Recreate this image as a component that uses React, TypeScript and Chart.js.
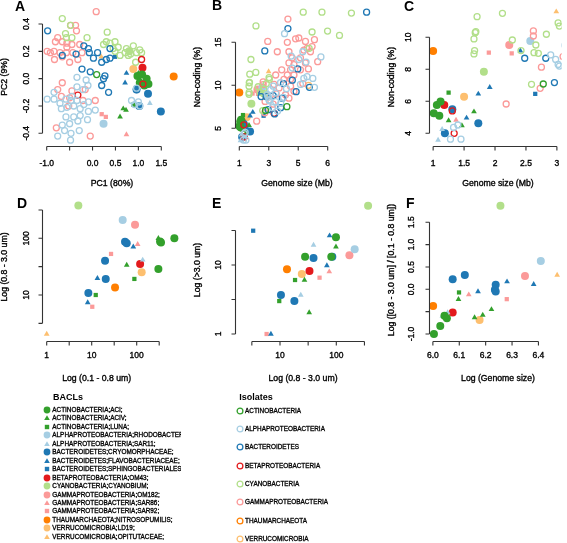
import React, { useEffect, useRef } from 'react';
import { Chart, registerables } from 'chart.js';

Chart.register(...registerables);

const W = 567;
const H = 543;
const FONT = '"Liberation Sans", Arial, Helvetica, sans-serif';

// ---------------- categories ----------------
const isolateNames = [
  'ACTINOBACTERIA', 'ALPHAPROTEOBACTERIA', 'BACTEROIDETES', 'BETAPROTEOBACTERIA',
  'CYANOBACTERIA', 'GAMMAPROTEOBACTERIA', 'THAUMARCHAEOTA', 'VERRUCOMICROBIA',
];
const baclNames = [
  'ACTINOBACTERIA;ACI;', 'ACTINOBACTERIA;ACIV;', 'ACTINOBACTERIA;LUNA;',
  'ALPHAPROTEOBACTERIA;RHODOBACTERACEAE;', 'ALPHAPROTEOBACTERIA;SAR11;',
  'BACTEROIDETES;CRYOMORPHACEAE;', 'BACTEROIDETES;FLAVOBACTERIACEAE;', 'BACTEROIDETES;SPHINGOBACTERIALES;',
  'BETAPROTEOBACTERIA;OM43;', 'CYANOBACTERIA;CYANOBIUM;',
  'GAMMAPROTEOBACTERIA;OM182;', 'GAMMAPROTEOBACTERIA;SAR86;', 'GAMMAPROTEOBACTERIA;SAR92;',
  'THAUMARCHAEOTA;NITROSOPUMILIS;', 'VERRUCOMICROBIA;LD19;', 'VERRUCOMICROBIA;OPITUTACEAE;',
];

// ---------------- styles ----------------
const phylumColors = ['#33A02C', '#A6CEE3', '#1F78B4', '#E31A1C', '#B2DF8A', '#FB9A99', '#FF7F00', '#FDBF6F'];
const baclPhylum = [0, 0, 0, 1, 1, 2, 2, 2, 3, 4, 5, 5, 5, 6, 7, 7];
const baclShapes = ['circle', 'triangle', 'rect', 'circle', 'triangle', 'circle', 'triangle', 'rect',
  'circle', 'circle', 'circle', 'triangle', 'rect', 'circle', 'circle', 'triangle'];

// ---------------- A: PCA (PC1, PC2) isolates ----------------
const pcaIsoActino = [[0.09, 0.03]];
const pcaIsoAlpha = [
  [-0.14, -0.01], [-0.34, -0.06], [-0.21, -0.08], [-0.10, -0.05], [-0.34, 0.01],
  [-0.99, -0.15], [-0.84, -0.15], [-0.71, -0.18], [-0.58, -0.15], [-0.47, -0.16], [-0.34, -0.16], [-0.19, -0.19], [-0.09, -0.17],
  [-0.68, -0.22], [-0.56, -0.21], [-0.41, -0.20], [-0.27, -0.22],
  [-0.58, -0.28], [-0.41, -0.28], [-0.27, -0.27], [-0.09, -0.24],
  [-0.66, -0.34], [-0.50, -0.33], [-0.32, -0.31], [-0.11, -0.30],
  [-0.61, -0.38], [-0.29, -0.38], [-0.76, -0.42], [-0.47, -0.40], [-0.48, -0.45],
  [0.06, -0.23], [-0.84, -0.10], [-0.45, -0.13],
  [0.92, -0.19], [1.03, -0.20], [0.85, -0.16], [0.96, -0.07], [1.0, -0.17],
];
const pcaIsoBact = [
  [-0.98, 0.35], [-0.66, 0.17], [-0.36, 0.18], [-0.19, 0.24], [-0.09, 0.22], [-0.07, 0.19], [0.11, 0.19],
  [0.02, 0.15], [0.30, 0.14], [0.38, 0.15], [0.38, 0.22], [-0.23, 0.07], [-0.05, 0.05], [0.27, 0.02],
  [0.20, -0.05], [0.35, -0.10], [0.96, -0.08], [0.24, 0.0], [0.20, 0.12],
];
const pcaIsoBeta = [[-0.32, -0.12], [1.07, 0.14], [1.10, -0.04]];
const pcaIsoCyano = [
  [-0.66, 0.44], [-0.48, 0.39], [-0.57, 0.30], [-0.45, 0.30], [-0.59, 0.33], [-0.12, 0.30], [0.32, 0.34],
  [0.30, 0.27], [0.38, 0.26], [0.49, 0.27], [0.45, 0.22], [0.49, 0.20], [0.56, 0.23], [0.74, 0.22],
  [0.89, 0.24], [0.71, 0.19], [0.83, 0.18], [0.96, 0.19], [1.07, 0.19], [0.94, 0.12], [1.03, 0.21],
  [0.24, 0.25], [0.60, 0.17], [0.78, 0.17],
];
const pcaIsoGamma = [
  [0.08, 0.49], [-0.37, 0.39], [-0.48, 0.39], [-0.35, 0.35], [-0.76, 0.30], [-0.66, 0.27], [-0.56, 0.26],
  [-0.81, 0.27], [-0.45, 0.25], [-0.28, 0.25], [-0.99, 0.20], [-0.84, 0.20], [-0.71, 0.19], [-0.57, 0.19],
  [-0.43, 0.19], [-0.83, 0.14], [-0.66, 0.16], [-0.50, 0.12], [-0.32, 0.14], [-0.92, 0.19], [-0.56, 0.23],
  [-0.23, 0.19], [-0.66, -0.03], [-0.76, -0.08], [-0.45, -0.09], [-0.50, -0.14], [-0.68, -0.13],
  [-0.21, -0.16], [0.06, -0.16], [-0.52, -0.20], [-0.05, -0.42], [-0.79, -0.36], [-0.16, -0.08],
];
const pcaIsoThaum = [];
const pcaIsoVerru = [];

// A: PCA BACLs (one list per BACL, in baclNames order)
const pcaBacl = [
  [[0.98, 0.02], [1.08, 0.03], [1.18, 0.0], [1.03, -0.03], [1.13, -0.05], [1.22, -0.04]],
  [[0.60, -0.28], [0.67, -0.22], [0.73, -0.23], [1.0, 0.04]],
  [[0.89, -0.19], [1.02, 0.0]],
  [[0.24, -0.33]],
  [[1.25, -0.18], [0.94, -0.2]],
  [[1.21, -0.11], [1.49, -0.24], [0.96, -0.08], [1.02, -0.2]],
  [[0.74, 0.04], [0.71, -0.03]],
  [[0.49, 0.16]],
  [[1.09, 0.08]],
  [[0.80, 0.2]],
  [],
  [[0.74, -0.41]],
  [[0.20, -0.26], [0.29, -0.28]],
  [[1.77, 0.015]],
  [[0.89, 0.07]],
  [[0.19, 0.16]],
];

// ---------------- B & C: genome size (Mb) vs non-coding (%) ----------------
const gsIsoActino = [[4.23, 7.52], [2.78, 7.08]];
const gsIsoAlpha = [
  [4.07, 16.0], [4.52, 13.4], [5.31, 13.9], [6.54, 13.3], [5.53, 12.7], [6.10, 9.77], [5.99, 10.8],
  [5.04, 13.0], [5.38, 10.8], [5.6, 11.0], [5.15, 10.1], [3.13, 9.5], [3.47, 9.1], [3.02, 8.3],
  [3.47, 8.1], [3.81, 7.9], [3.25, 7.4], [4.2, 9.6], [4.6, 12.0], [3.8, 10.3], [2.90, 8.9], [2.98, 8.62],
  [3.04, 8.2], [1.40, 4.52], [1.33, 4.37], [1.28, 3.63], [1.45, 3.63], [3.6, 7.0], [4.0, 8.6], [3.3, 9.9],
];
const gsIsoBact = [
  [9.64, 18.5], [4.30, 16.6], [2.73, 14.0], [4.97, 11.9], [5.76, 9.77], [4.86, 9.26], [3.81, 7.4],
  [3.40, 6.67], [2.48, 8.69], [2.82, 8.69], [2.96, 7.17], [3.92, 8.5], [4.0, 10.2], [4.6, 10.6], [3.3, 8.8],
];
const gsIsoBeta = [[1.31, 5.4], [1.34, 4.0], [3.36, 6.74]];
const gsIsoCyano = [
  [5.34, 18.5], [6.61, 18.5], [8.61, 18.4], [2.13, 16.9], [5.94, 16.2], [6.99, 16.3], [7.8, 15.8],
  [1.79, 13.0], [2.12, 11.5], [1.71, 11.29], [1.68, 10.29], [1.69, 10.35], [1.66, 9.9], [1.67, 9.17],
  [1.66, 8.96], [2.28, 9.83], [2.42, 9.17], [2.66, 9.52], [2.83, 10.19], [2.63, 9.04], [2.70, 9.0],
  [2.59, 7.06], [3.04, 10.7], [3.02, 10.9], [5.74, 14.3],
];
const gsIsoGamma = [
  [2.93, 15.1], [4.26, 15.0], [4.82, 15.4], [5.04, 15.5], [5.49, 15.1], [5.94, 14.5], [3.58, 13.9],
  [4.37, 13.9], [5.38, 14.1], [5.60, 14.3], [5.83, 13.9], [4.59, 13.2], [5.15, 13.2], [4.37, 12.6],
  [4.71, 12.4], [5.49, 12.6], [3.88, 11.8], [4.48, 11.8], [5.15, 11.8], [3.47, 11.2], [4.26, 11.2],
  [4.71, 11.2], [4.03, 10.7], [4.48, 10.7], [3.36, 10.1], [3.70, 9.7], [4.48, 9.9], [4.71, 9.3],
  [4.14, 8.9], [4.37, 8.5], [4.30, 17.7], [6.10, 15.3], [6.32, 12.75], [5.69, 11.9], [5.31, 10.2],
  [3.1, 8.8], [3.5, 9.0], [3.3, 7.8], [2.62, 10.4], [2.62, 10.08], [2.75, 8.13], [2.73, 6.81], [2.18, 5.83],
];
const gsIsoThaum = [];
const gsIsoVerru = [[5.7, 10.0]];

const gsBacl = [
  [[1.01, 5.25], [1.06, 5.77], [1.12, 5.98], [1.10, 5.1]],
  [[1.25, 4.79], [1.465, 4.48], [1.66, 5.35]],
  [[1.25, 6.54]],
  [[2.57, 9.77]],
  [[1.145, 4.25], [1.08, 3.58]],
  [[1.31, 5.5], [1.19, 4.0], [1.73, 4.63]],
  [[1.54, 4.96], [1.73, 6.46], [1.915, 6.875], [2.41, 9.15]],
  [[2.65, 6.46]],
  [[1.18, 5.77]],
  [[1.82, 7.85]],
  [[2.23, 9.52]],
  [[1.37, 4.83]],
  [[1.90, 9.04], [2.27, 9.0]],
  [[1.0, 9.15]],
  [[1.5, 6.29]],
  [[2.99, 11.6]],
];

// ---------------- D: 0.1-0.8 um vs 0.8-3.0 um ----------------
const fracD = [
  [[687, 100], [347, 84], [303, 28.8], [330, 88]],
  [[303, 100], [60, 33.8]],
  [[88.8, 19.2], [12.3, 10]],
  [[48.8, 211]],
  [[136, 41.5]],
  [[55, 87], [60, 82], [19.8, 40], [20.5, 19.2], [8.43, 10.8]],
  [[84, 71], [13.4, 19.7], [8.15, 7.33]],
  [],
  [[119, 35.2]],
  [[5.05, 377]],
  [[91.8, 174]],
  [[105, 78]],
  [[26.9, 53], [10.3, 6.2]],
  [[33, 13.6]],
  [[129, 25.1]],
  [[1, 2.05]],
];

// ---------------- E: 0.8-3.0 um vs >3.0 um ----------------
const fracE = [
  [[98.6, 25.2], [27.9, 13.2], [81.5, 13.2]],
  [[98.6, 18.4], [27.2, 6.06], [33, 2.04]],
  [[18.5, 6.06], [9.7, 3.0]],
  [[212, 16.9]],
  [[39.4, 19.5], [23.4, 3.67]],
  [[39.4, 12.6], [85, 13.2], [10.4, 3.67], [18, 3.0]],
  [[76, 26.6], [68, 9.78], [6.9, 1.0]],
  [[3.34, 31.4]],
  [[33.4, 8.19]],
  [[367, 72.4]],
  [[171, 13.8]],
  [[75, 8.0]],
  [[50.4, 6.55], [5.78, 1.0]],
  [[13.3, 8.65]],
  [[24.4, 7.4]],
  [],
];

// ---------------- F: log genome size vs log ratio ----------------
const ratioF = [
  [[6.044, -0.59], [6.053, -0.65], [6.028, -0.82], [6.004, -1.0]],
  [[6.097, -0.224], [6.222, -0.45], [6.158, -0.634], [6.189, -0.575]],
  [[6.099, -0.07]],
  [[6.409, 0.633]],
  [[6.056, -0.52], [6.036, -0.6]],
  [[6.121, 0.321], [6.075, 0.224], [6.238, 0.10], [6.235, -0.01], [6.238, -0.05]],
  [[6.281, 0.17], [6.382, 0.11], [6.171, -0.05]],
  [],
  [[6.075, -0.52]],
  [[6.256, 1.873]],
  [[6.349, 0.30]],
  [[6.136, -0.12]],
  [[6.28, -0.22]],
  [[6.001, -0.373]],
  [[6.177, -0.687]],
  [[6.471, 0.32]],
];

// ---------------- tick values and labels ----------------
const pcaXTicks = [-1, -0.5, 0, 0.5, 1, 1.5];
const pcaXLabels = ['-1.0', '', '0.0', '0.5', '1.0', '1.5'];
const pcaYTicks = [-0.4, -0.2, 0, 0.2, 0.4];
const pcaYLabels = ['-0.4', '-0.2', '0.0', '0.2', '0.4'];
const gsBXTicks = [1, 3, 5, 7];
const gsBXLabels = ['1', '3', '5', '6'];
const ncBYTicks = [5, 10, 15];
const ncBYLabels = ['5', '10', '15'];
const gsCXTicks = [1, 1.5, 2, 2.5, 3];
const gsCXLabels = ['1', '1.5', '2', '2.5', '3'];
const ncCYTicks = [4, 6, 8, 10];
const ncCYLabels = ['4', '6', '8', '10'];
const dXTicks = [1, 3.162, 10, 31.62, 100, 316.2];
const dXLabels = ['1', '', '10', '', '100', ''];
const dYTicks = [3.162, 10, 31.62, 100, 316.2];
const dYLabels = ['', '10', '', '100', ''];
const eXTicks = [3.162, 10, 31.62, 100, 316.2];
const eXLabels = ['', '10', '', '100', ''];
const eYTicks = [1, 3.162, 10, 31.62];
const eYLabels = ['1', '', '10', ''];
const fXTicks = [6.0, 6.1, 6.2, 6.3, 6.4];
const fXLabels = ['6.0', '6.1', '6.2', '6.3', '6.4'];
const fYTicks = [-1, -0.5, 0, 0.5, 1, 1.5];
const fYLabels = ['-1.0', '', '0.0', '0.5', '1.0', '1.5'];

const pcaIsolates = [pcaIsoActino, pcaIsoAlpha, pcaIsoBact, pcaIsoBeta, pcaIsoCyano, pcaIsoGamma, pcaIsoThaum, pcaIsoVerru];
const gsIsolates = [gsIsoActino, gsIsoAlpha, gsIsoBact, gsIsoBeta, gsIsoCyano, gsIsoGamma, gsIsoThaum, gsIsoVerru];

// ---------------- layout ----------------
const TOP_AXIS = 145.7;
const BOT_AXIS = 340.7;

const panels = [
  {
    letter: 'A', lx: 15, ly: 11, area: { l: 40, t: 8, r: 182, b: 146 }, xType: 'linear', yType: 'linear',
    xCal: [-1, 46.7, 1.5, 161.3], yCal: [0.4, 24, -0.4, 133.3], clip: false,
    iso: pcaIsolates, bacl: pcaBacl, xTicks: pcaXTicks, xLabels: pcaXLabels, yTicks: pcaYTicks, yLabels: pcaYLabels,
    xPos: TOP_AXIS, yPos: 41.7, xLabOff: 17.5, yLabOff: 15.5,
    xTitle: 'PC1 (80%)', xTitleX: 112, yTitle: 'PC2 (9%)', yTitleY: 77,
  },
  {
    letter: 'B', lx: 212, ly: 10, area: { l: 233, t: 8, r: 380, b: 146 }, xType: 'linear', yType: 'linear',
    xCal: [1, 239.3, 7, 327.7], yCal: [15, 42.3, 5, 128.3], clip: false,
    iso: gsIsolates, bacl: gsBacl, xTicks: gsBXTicks, xLabels: gsBXLabels, yTicks: ncBYTicks, yLabels: ncBYLabels,
    xPos: TOP_AXIS, yPos: 235, xLabOff: 17.5, yLabOff: 16.5,
    xTitle: 'Genome size (Mb)', xTitleX: 297, yTitle: 'Non-coding (%)', yTitleY: 77,
  },
  {
    letter: 'C', lx: 404, ly: 11, area: { l: 429, t: 6, r: 567, b: 146 }, xType: 'linear', yType: 'linear',
    xCal: [1, 433.3, 3, 562], yCal: [10, 37.3, 4, 133.3], clip: true,
    iso: gsIsolates, bacl: gsBacl, xTicks: gsCXTicks, xLabels: gsCXLabels, yTicks: ncCYTicks, yLabels: ncCYLabels,
    xPos: TOP_AXIS, yPos: 429.3, xLabOff: 17.5, yLabOff: 21,
    xTitle: 'Genome size (Mb)', xTitleX: 498, yTitle: 'Non-coding (%)', yTitleY: 77,
  },
  {
    letter: 'D', lx: 17, ly: 208, area: { l: 40, t: 200, r: 182, b: 342 }, xType: 'logarithmic', yType: 'logarithmic',
    xCal: [1, 46.7, 100, 136.7], yCal: [100, 238.3, 10, 295], clip: false,
    iso: null, bacl: fracD, xTicks: dXTicks, xLabels: dXLabels, yTicks: dYTicks, yLabels: dYLabels,
    xPos: BOT_AXIS, yPos: 41.7, xLabOff: 15.3, yLabOff: 15.5,
    xTitle: 'Log (0.1 - 0.8 um)', xTitleX: 96.7, yTitle: 'Log (0.8 - 3.0 um)', yTitleY: 267,
  },
  {
    letter: 'E', lx: 212, ly: 208, area: { l: 233, t: 200, r: 375, b: 342 }, xType: 'logarithmic', yType: 'logarithmic',
    xCal: [10, 280, 100, 336.3], yCal: [10, 265, 1, 334], clip: false,
    iso: null, bacl: fracE, xTicks: eXTicks, xLabels: eXLabels, yTicks: eYTicks, yLabels: eYLabels,
    xPos: BOT_AXIS, yPos: 235, xLabOff: 15.3, yLabOff: 16.5,
    xTitle: 'Log (0.8 - 3.0 um)', xTitleX: 303, yTitle: 'Log (>3.0 um)', yTitleY: 270,
  },
  {
    letter: 'F', lx: 406, ly: 208, area: { l: 429, t: 200, r: 567, b: 342 }, xType: 'linear', yType: 'linear',
    xCal: [6, 433, 6.4, 541.7], yCal: [1.5, 222.3, -1, 334], clip: false,
    iso: null, bacl: ratioF, xTicks: fXTicks, xLabels: fXLabels, yTicks: fYTicks, yLabels: fYLabels,
    xPos: BOT_AXIS, yPos: 429.3, xLabOff: 15.3, yLabOff: 17.5,
    xTitle: 'Log (Genome size)', xTitleX: 498,
    yTitle: 'Log ([0.8 - 3.0 um] / [0.1 - 0.8 um])', yTitleY: 270,
  },
];

const TICK_LEN = 4;
const TITLE_OFF = 37.5;
const TICK_FONT = `8.5px ${FONT}`;
const TITLE_FONT = `8.7px ${FONT}`;
const LETTER_FONT = `bold 14px ${FONT}`;
const AXIS_COLOR = '#333';
const TEXT_COLOR = '#000';
const TEXT_STROKE = 0.35;

function calRange(type, cal, a, b) {
  const f = type === 'logarithmic' ? (v) => Math.log10(v) : (v) => v;
  const inv = type === 'logarithmic' ? (v) => Math.pow(10, v) : (v) => v;
  const [v1, p1, v2, p2] = cal;
  const k = (f(v2) - f(v1)) / (p2 - p1);
  return [inv(f(v1) + (a - p1) * k), inv(f(v1) + (b - p1) * k)];
}

function heavyText(ctx, s, x, y) {
  ctx.fillText(s, x, y);
  ctx.strokeText(s, x, y);
}

function axesPlugin(p) {
  return {
    id: 'rAxes' + p.letter,
    afterDraw(chart) {
      const ctx = chart.ctx;
      const xs = chart.scales.x;
      const ys = chart.scales.y;
      ctx.save();
      ctx.strokeStyle = AXIS_COLOR;
      ctx.lineWidth = 1.1;
      // x axis
      const xy = Math.round(p.xPos) + 0.5;
      const xp = p.xTicks.map((t) => xs.getPixelForValue(t));
      ctx.beginPath();
      ctx.moveTo(xp[0], xy);
      ctx.lineTo(xp[xp.length - 1], xy);
      xp.forEach((px) => { ctx.moveTo(px, xy); ctx.lineTo(px, xy + TICK_LEN); });
      ctx.stroke();
      // y axis
      const yx = Math.round(p.yPos) + 0.5;
      const yp = p.yTicks.map((t) => ys.getPixelForValue(t));
      ctx.beginPath();
      ctx.moveTo(yx, yp[0]);
      ctx.lineTo(yx, yp[yp.length - 1]);
      yp.forEach((py) => { ctx.moveTo(yx, py); ctx.lineTo(yx - TICK_LEN, py); });
      ctx.stroke();

      ctx.fillStyle = TEXT_COLOR;
      ctx.strokeStyle = TEXT_COLOR;
      ctx.lineWidth = TEXT_STROKE;
      ctx.font = TICK_FONT;
      ctx.textAlign = 'center';
      ctx.textBaseline = 'middle';
      xp.forEach((px, i) => { if (p.xLabels[i]) heavyText(ctx, p.xLabels[i], px, p.xPos + p.xLabOff); });
      yp.forEach((py, i) => {
        if (!p.yLabels[i]) return;
        ctx.save();
        ctx.translate(p.yPos - p.yLabOff, py);
        ctx.rotate(-Math.PI / 2);
        heavyText(ctx, p.yLabels[i], 0, 0);
        ctx.restore();
      });
      // titles
      ctx.font = TITLE_FONT;
      heavyText(ctx, p.xTitle, p.xTitleX, p.xPos + TITLE_OFF);
      ctx.save();
      ctx.translate(p.yPos - TITLE_OFF, p.yTitleY);
      ctx.rotate(-Math.PI / 2);
      heavyText(ctx, p.yTitle, 0, 0);
      ctx.restore();
      // panel letter
      ctx.font = LETTER_FONT;
      ctx.textAlign = 'left';
      ctx.textBaseline = 'alphabetic';
      ctx.fillText(p.letter, p.lx, p.ly);
      ctx.restore();
    },
  };
}

const ISO_R = 3.0;
const ISO_BW = 1.3;
const BACL_R = { circle: 4.0, triangle: 3.3, rect: 3.0 };

function Panel({ p }) {
  const ref = useRef(null);
  useEffect(() => {
    const [xmin, xmax] = calRange(p.xType, p.xCal, p.area.l, p.area.r);
    const [ytop, ybot] = calRange(p.yType, p.yCal, p.area.t, p.area.b);
    const clip = p.clip ? 0 : false;
    const datasets = [];
    if (p.iso) {
      p.iso.forEach((pts, i) => {
        datasets.push({
          label: isolateNames[i],
          data: pts.map(([x, y]) => ({ x, y })),
          pointStyle: 'circle',
          pointRadius: ISO_R,
          pointBorderWidth: ISO_BW,
          pointBorderColor: phylumColors[i],
          borderColor: phylumColors[i],
          pointBackgroundColor: 'rgba(0,0,0,0)',
          backgroundColor: 'rgba(0,0,0,0)',
          clip,
        });
      });
    }
    p.bacl.forEach((pts, i) => {
      const col = phylumColors[baclPhylum[i]];
      const shape = baclShapes[i];
      datasets.push({
        label: baclNames[i],
        data: pts.map(([x, y]) => ({ x, y })),
        pointStyle: shape,
        pointRadius: BACL_R[shape],
        pointBorderWidth: 0,
        pointBackgroundColor: col,
        backgroundColor: col,
        borderColor: col,
        clip,
      });
    });
    const chart = new Chart(ref.current, {
      type: 'scatter',
      data: { datasets },
      options: {
        animation: false,
        responsive: false,
        devicePixelRatio: 1,
        events: [],
        layout: { padding: { left: p.area.l, top: p.area.t, right: W - p.area.r, bottom: H - p.area.b } },
        plugins: { legend: { display: false }, tooltip: { enabled: false } },
        scales: {
          x: { type: p.xType, display: false, min: xmin, max: xmax, bounds: 'data' },
          y: { type: p.yType, display: false, min: ybot, max: ytop, bounds: 'data' },
        },
      },
      plugins: [axesPlugin(p)],
    });
    return () => chart.destroy();
  }, [p]);
  return <canvas ref={ref} width={W} height={H} style={{ position: 'absolute', left: 0, top: 0 }} />;
}

function Marker({ shape, color, open, cx, cy }) {
  const s = 10;
  let el;
  if (open) {
    el = <circle cx={5} cy={5} r={2.9} fill="none" stroke={color} strokeWidth={1.3} />;
  } else if (shape === 'circle') {
    el = <circle cx={5} cy={5} r={3.4} fill={color} />;
  } else if (shape === 'triangle') {
    el = <polygon points="5,2.2 7.8,7 2.2,7" fill={color} />;
  } else {
    el = <rect x={2.8} y={2.8} width={4.4} height={4.4} fill={color} />;
  }
  return (
    <svg width={s} height={s} style={{ position: 'absolute', left: cx - 5, top: cy - 5 }}>{el}</svg>
  );
}

const LEG_TOP = 380;
const baclRowY = (i) => 410 + 8.45 * i - LEG_TOP;
const isoRowY = (i) => 410.7 + 18.33 * i - LEG_TOP;

function Legends() {
  const textStyle = {
    position: 'absolute', fontFamily: FONT, fontSize: '6.4px', lineHeight: '8px', whiteSpace: 'nowrap', color: '#000',
    WebkitTextStroke: '0.3px #000',
  };
  const titleStyle = {
    position: 'absolute', fontFamily: FONT, fontSize: '9px', fontWeight: 'bold', lineHeight: '12px', whiteSpace: 'nowrap', color: '#000',
  };
  return (
    <>
      <div style={{ position: 'absolute', left: 0, top: LEG_TOP, width: 181, height: H - LEG_TOP, overflow: 'hidden' }}>
        <div style={{ ...titleStyle, left: 53, top: 397 - LEG_TOP - 6 }}>BACLs</div>
        {baclNames.map((n, i) => (
          <React.Fragment key={n}>
            <Marker shape={baclShapes[i]} color={phylumColors[baclPhylum[i]]} open={false} cx={46.7} cy={baclRowY(i)} />
            <div style={{ ...textStyle, left: 52.3, top: baclRowY(i) - 4 }}>{n}</div>
          </React.Fragment>
        ))}
      </div>
      <div style={{ position: 'absolute', left: 190, top: LEG_TOP, width: 200, height: H - LEG_TOP, overflow: 'hidden' }}>
        <div style={{ ...titleStyle, left: 239.3 - 190, top: 397 - LEG_TOP - 6 }}>Isolates</div>
        {isolateNames.map((n, i) => (
          <React.Fragment key={n}>
            <Marker shape="circle" color={phylumColors[i]} open={true} cx={240 - 190} cy={isoRowY(i)} />
            <div style={{ ...textStyle, left: 245 - 190, top: isoRowY(i) - 4 }}>{n}</div>
          </React.Fragment>
        ))}
      </div>
    </>
  );
}

export default function App() {
  return (
    <div style={{ position: 'absolute', left: 0, top: 0, width: W, height: H, background: '#fff', overflow: 'hidden' }}>
      {panels.map((p) => <Panel key={p.letter} p={p} />)}
      <Legends />
    </div>
  );
}
